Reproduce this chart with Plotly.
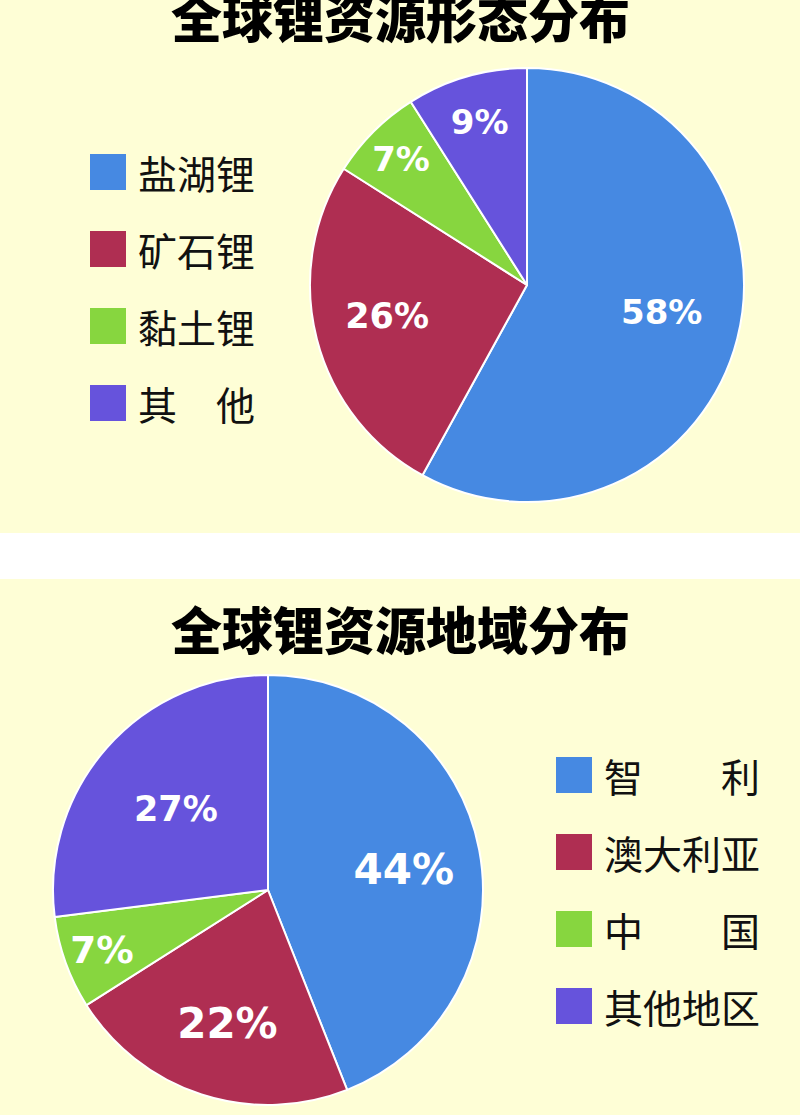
import plotly.graph_objects as go

W, H = 800, 1115

# ---- data ----
form_labels = ["盐湖锂", "矿石锂", "黏土锂", "其　他"]
form_values = [58, 26, 7, 9]
region_labels = ["智　　利", "澳大利亚", "中　　国", "其他地区"]
region_values = [44, 22, 7, 27]
colors = ["#4689E2", "#AF2E52", "#87D63F", "#6653DC"]
titles = ["全球锂资源形态分布", "全球锂资源地域分布"]

BG = "#FEFED6"
PCT_FONT = "DejaVu Sans"
NB = "\u00a0"


def px_x(x):
    return x / W


def px_y(y):
    return 1 - y / H


fig = go.Figure()

# small padding in label templates to nudge plotly's label placement
form_tpl = [NB * 5 + "%{percent}", "%{percent}" + NB * 3, "%{percent}", "%{percent}"]
region_tpl = [NB * 4 + "%{percent}", "<span style='font-size:1px'>" + NB + "</span><br>%{percent}",
              "%{percent}", "%{percent}"]

fig.add_trace(go.Pie(
    labels=form_labels, values=form_values, sort=False, direction="clockwise",
    rotation=0, marker=dict(colors=colors, line=dict(color="white", width=2)),
    texttemplate=form_tpl, textposition="inside", insidetextorientation="horizontal",
    textfont=dict(color="white", family=PCT_FONT, size=[34, 35, 34, 34], weight="bold"),
    domain=dict(x=[px_x(310), px_x(744)], y=[px_y(502), px_y(68)]),
    showlegend=False, hoverinfo="label+percent",
))

fig.add_trace(go.Pie(
    labels=region_labels, values=region_values, sort=False, direction="clockwise",
    rotation=0, marker=dict(colors=colors, line=dict(color="white", width=2)),
    texttemplate=region_tpl, textposition="inside", insidetextorientation="horizontal",
    textfont=dict(color="white", family=PCT_FONT, size=[42, 42, 42, 35], weight="bold"),
    domain=dict(x=[px_x(53), px_x(483)], y=[px_y(1105), px_y(675)]),
    showlegend=False, hoverinfo="label+percent",
))

shapes = [
    dict(type="rect", xref="paper", yref="paper", x0=0, x1=1, y0=px_y(533), y1=1,
         fillcolor=BG, line=dict(width=0), layer="below"),
    dict(type="rect", xref="paper", yref="paper", x0=0, x1=1, y0=0, y1=px_y(579),
         fillcolor=BG, line=dict(width=0), layer="below"),
]
annotations = []

# titles
for t, yc in zip(titles, [16, 628]):
    annotations.append(dict(text=t, x=0.5, y=px_y(yc), xref="paper", yref="paper",
                            xanchor="center", yanchor="middle", showarrow=False,
                            font=dict(family="Noto Sans CJK SC", size=51, color="black", weight=900)))


# manual legends
def add_legend(labels, sq_x, first_y, step):
    for i, lab in enumerate(labels):
        yc = first_y + i * step
        shapes.append(dict(type="rect", xref="paper", yref="paper",
                           x0=px_x(sq_x), x1=px_x(sq_x + 36),
                           y0=px_y(yc + 18), y1=px_y(yc - 18),
                           fillcolor=colors[i], line=dict(width=0)))
        annotations.append(dict(text=lab, x=px_x(sq_x + 46), y=px_y(yc), xref="paper", yref="paper",
                                xanchor="left", yanchor="middle", showarrow=False,
                                font=dict(family="Noto Sans CJK SC", size=39, color="#111111")))


add_legend(form_labels, 90, 172, 77)
add_legend(region_labels, 556, 775, 77)

fig.update_layout(
    width=W, height=H, margin=dict(l=0, r=0, t=0, b=0),
    paper_bgcolor="white", plot_bgcolor="white",
    shapes=shapes, annotations=annotations,
)

fig.write_html("out.html", config={"displayModeBar": False},
               post_script="document.body.style.margin='0';")
